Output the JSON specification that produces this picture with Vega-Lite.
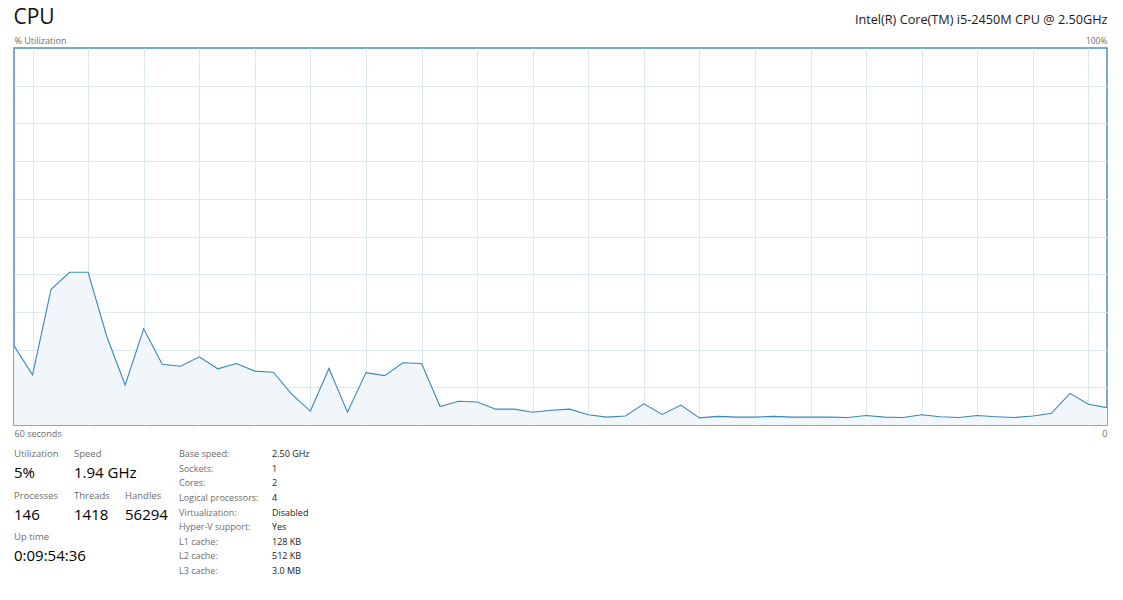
{
  "$schema": "https://vega.github.io/schema/vega-lite/v6.json",
  "width": 1093,
  "height": 377,
  "autosize": {"type": "none"},
  "padding": {"left": 14, "top": 48, "right": 16, "bottom": 175},
  "background": "#ffffff",
  "config": {
    "view": {"stroke": "#4a90c0", "strokeWidth": 1.5},
    "font": "Open Sans",
    "text": {"font": "Open Sans"}
  },
  "datasets": {
    "cpu": [
      {"i": 0, "cpu": 21.0}, {"i": 1, "cpu": 13.3}, {"i": 2, "cpu": 36.0}, {"i": 3, "cpu": 40.5},
      {"i": 4, "cpu": 40.5}, {"i": 5, "cpu": 23.6}, {"i": 6, "cpu": 10.6}, {"i": 7, "cpu": 25.5},
      {"i": 8, "cpu": 16.1}, {"i": 9, "cpu": 15.6}, {"i": 10, "cpu": 18.1}, {"i": 11, "cpu": 14.9},
      {"i": 12, "cpu": 16.3}, {"i": 13, "cpu": 14.3}, {"i": 14, "cpu": 14.0}, {"i": 15, "cpu": 8.1},
      {"i": 16, "cpu": 3.7}, {"i": 17, "cpu": 15.0}, {"i": 18, "cpu": 3.4}, {"i": 19, "cpu": 13.9},
      {"i": 20, "cpu": 13.1}, {"i": 21, "cpu": 16.5}, {"i": 22, "cpu": 16.3}, {"i": 23, "cpu": 4.9},
      {"i": 24, "cpu": 6.3}, {"i": 25, "cpu": 6.1}, {"i": 26, "cpu": 4.2}, {"i": 27, "cpu": 4.2},
      {"i": 28, "cpu": 3.4}, {"i": 29, "cpu": 3.9}, {"i": 30, "cpu": 4.2}, {"i": 31, "cpu": 2.7},
      {"i": 32, "cpu": 2.1}, {"i": 33, "cpu": 2.4}, {"i": 34, "cpu": 5.6}, {"i": 35, "cpu": 2.8},
      {"i": 36, "cpu": 5.3}, {"i": 37, "cpu": 1.9}, {"i": 38, "cpu": 2.3}, {"i": 39, "cpu": 2.1},
      {"i": 40, "cpu": 2.1}, {"i": 41, "cpu": 2.3}, {"i": 42, "cpu": 2.1}, {"i": 43, "cpu": 2.1},
      {"i": 44, "cpu": 2.1}, {"i": 45, "cpu": 2.0}, {"i": 46, "cpu": 2.5}, {"i": 47, "cpu": 2.1},
      {"i": 48, "cpu": 2.0}, {"i": 49, "cpu": 2.7}, {"i": 50, "cpu": 2.2}, {"i": 51, "cpu": 2.0},
      {"i": 52, "cpu": 2.5}, {"i": 53, "cpu": 2.2}, {"i": 54, "cpu": 2.0}, {"i": 55, "cpu": 2.4},
      {"i": 56, "cpu": 3.1}, {"i": 57, "cpu": 8.4}, {"i": 58, "cpu": 5.5}, {"i": 59, "cpu": 4.6}
    ],
    "stats": [
      {"col": 0, "line": 0, "label": "Utilization", "value": "5%"},
      {"col": 1, "line": 0, "label": "Speed", "value": "1.94 GHz"},
      {"col": 0, "line": 1, "label": "Processes", "value": "146"},
      {"col": 1, "line": 1, "label": "Threads", "value": "1418"},
      {"col": 2, "line": 1, "label": "Handles", "value": "56294"},
      {"col": 0, "line": 2, "label": "Up time", "value": "0:09:54:36"}
    ],
    "details": [
      {"row": 0, "kind": "label", "text": "Base speed:"},
      {"row": 0, "kind": "value", "text": "2.50 GHz"},
      {"row": 1, "kind": "label", "text": "Sockets:"},
      {"row": 1, "kind": "value", "text": "1"},
      {"row": 2, "kind": "label", "text": "Cores:"},
      {"row": 2, "kind": "value", "text": "2"},
      {"row": 3, "kind": "label", "text": "Logical processors:"},
      {"row": 3, "kind": "value", "text": "4"},
      {"row": 4, "kind": "label", "text": "Virtualization:"},
      {"row": 4, "kind": "value", "text": "Disabled"},
      {"row": 5, "kind": "label", "text": "Hyper-V support:"},
      {"row": 5, "kind": "value", "text": "Yes"},
      {"row": 6, "kind": "label", "text": "L1 cache:"},
      {"row": 6, "kind": "value", "text": "128 KB"},
      {"row": 7, "kind": "label", "text": "L2 cache:"},
      {"row": 7, "kind": "value", "text": "512 KB"},
      {"row": 8, "kind": "label", "text": "L3 cache:"},
      {"row": 8, "kind": "value", "text": "3.0 MB"}
    ]
  },
  "resolve": {"scale": {"x": "independent", "y": "independent", "color": "independent"}},
  "layer": [
    {
      "data": {"name": "cpu"},
      "resolve": {"axis": {"y": "independent"}},
      "encoding": {
        "x": {
          "field": "i",
          "type": "quantitative",
          "scale": {"domain": [0, 59], "nice": false, "zero": false},
          "axis": {
            "orient": "bottom",
            "values": [0, 1, 4, 7, 10, 13, 16, 19, 22, 25, 28, 31, 34, 37, 40, 43, 46, 49, 52, 55, 58, 59],
            "grid": true,
            "gridColor": {"condition": {"test": "datum.value == 0 || datum.value == 59", "value": "transparent"}, "value": "#d9eaf4"},
            "gridWidth": 1,
            "domain": false,
            "ticks": false,
            "tickSize": 0,
            "labelExpr": "datum.value == 0 ? '60 seconds' : (datum.value == 59 ? '0' : '')",
            "labelFlush": true,
            "labelOverlap": false,
            "labelPadding": 4,
            "labelFontSize": 9,
            "labelColor": "#6d6d6d",
            "labelFont": "Open Sans",
            "title": null
          }
        }
      },
      "layer": [
        {
          "mark": {"type": "area", "color": "#f1f6fa", "opacity": 1, "fillOpacity": 1},
          "encoding": {
            "y": {
              "field": "cpu",
              "type": "quantitative",
              "scale": {"domain": [0, 100], "nice": false},
              "axis": {
                "orient": "left",
                "values": [0, 10, 20, 30, 40, 50, 60, 70, 80, 90, 100],
                "grid": true,
                "gridColor": {"condition": {"test": "datum.value == 0 || datum.value == 100", "value": "transparent"}, "value": "#d9eaf4"},
                "domain": false,
                "ticks": false,
                "tickSize": 0,
                "labelExpr": "datum.value == 100 ? '% Utilization' : ''",
                "labelAlign": "left",
                "labelBaseline": "middle",
                "labelPadding": 0,
                "labelOffset": -8,
                "labelFlush": false,
                "labelOverlap": false,
                "labelFontSize": 9,
                "labelColor": "#6d6d6d",
                "labelFont": "Open Sans",
                "title": "CPU",
                "titleAngle": 0,
                "titleAlign": "left",
                "titleBaseline": "middle",
                "titleX": -1,
                "titleY": -31,
                "titleFontSize": 21,
                "titleFontWeight": "normal",
                "titleFont": "Open Sans",
                "titleColor": "#111111"
              }
            }
          }
        },
        {
          "mark": {"type": "line", "color": "#3a87bc", "strokeWidth": 1.1},
          "encoding": {
            "y": {
              "field": "cpu",
              "type": "quantitative",
              "scale": {"domain": [0, 100], "nice": false},
              "axis": {
                "orient": "right",
                "values": [100],
                "grid": false,
                "domain": false,
                "ticks": false,
                "tickSize": 0,
                "labelExpr": "'100%'",
                "labelAlign": "right",
                "labelBaseline": "middle",
                "labelPadding": 0,
                "labelOffset": -8,
                "labelFlush": false,
                "labelFontSize": 8.5,
                "labelColor": "#6d6d6d",
                "labelFont": "Open Sans",
                "title": "Intel(R) Core(TM) i5-2450M CPU @ 2.50GHz",
                "titleAngle": 0,
                "titleAlign": "right",
                "titleBaseline": "middle",
                "titleX": 0,
                "titleY": -29,
                "titleFontSize": 12.7,
                "titleFontWeight": "normal",
                "titleFont": "Open Sans",
                "titleColor": "#1a1a1a"
              }
            }
          }
        }
      ]
    },
    {
      "data": {"name": "stats"},
      "encoding": {
        "x": {"field": "col", "type": "quantitative", "scale": {"domain": [0, 1, 2], "range": [0, 60, 111]}, "axis": null},
        "y": {"field": "line", "type": "quantitative", "scale": {"domain": [0, 2], "range": [406, 489.3]}, "axis": null}
      },
      "layer": [
        {
          "mark": {"type": "text", "align": "left", "baseline": "middle", "fontSize": 9.5, "color": "#6d6d6d", "font": "Open Sans"},
          "encoding": {"text": {"field": "label"}}
        },
        {
          "mark": {"type": "text", "align": "left", "baseline": "middle", "fontSize": 15, "color": "#000000", "dy": 19, "font": "Open Sans"},
          "encoding": {"text": {"field": "value"}}
        }
      ]
    },
    {
      "data": {"name": "details"},
      "mark": {"type": "text", "align": "left", "baseline": "middle", "fontSize": 9, "font": "Open Sans"},
      "encoding": {
        "x": {"field": "kind", "type": "nominal", "scale": {"type": "point", "domain": ["label", "value"], "range": [165, 258], "padding": 0}, "axis": null},
        "y": {"field": "row", "type": "quantitative", "scale": {"domain": [0, 8], "range": [406, 523]}, "axis": null},
        "color": {"field": "kind", "type": "nominal", "scale": {"domain": ["label", "value"], "range": ["#6d6d6d", "#1a1a1a"]}, "legend": null},
        "text": {"field": "text"}
      }
    }
  ]
}
